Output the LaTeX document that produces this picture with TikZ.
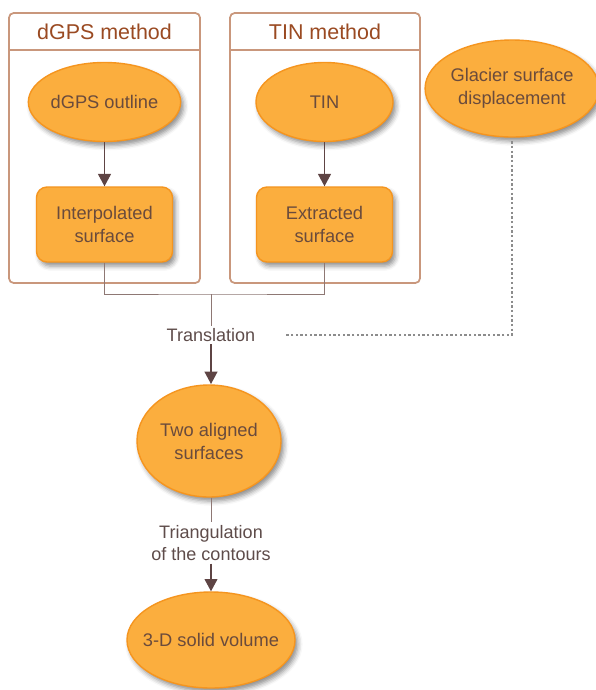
\documentclass[tikz,border=0pt]{standalone}
\usepackage{fontspec}
\setmainfont{Liberation Sans}
\usepackage{tikz}
\usetikzlibrary{arrows.meta,shapes.geometric,shadows.blur}

\definecolor{frameline}{HTML}{C9977C}
\definecolor{titletext}{HTML}{9A4A22}
\definecolor{nodefill}{HTML}{FBAE3E}
\definecolor{nodeline}{HTML}{F5951F}
\definecolor{nodetext}{HTML}{6A4B3C}
\definecolor{labeltext}{HTML}{5E4C4A}
\definecolor{arrowline}{HTML}{5E4444}
\definecolor{joinline}{HTML}{8E7874}
\definecolor{dotline}{HTML}{8C8C8C}

\begin{document}
\begin{tikzpicture}[x=0.03cm,y=-0.03cm,
    frame/.style={draw=frameline,line width=1.5pt,rounded corners=4pt},
    title/.style={text=titletext,font=\fontsize{18.3}{22}\selectfont},
    shade/.style={blur shadow={shadow xshift=2.5pt,shadow yshift=-3.5pt,shadow blur radius=4pt,shadow opacity=45}},
    blob/.style={ellipse,draw=nodeline,line width=1.2pt,fill=nodefill,text=nodetext,align=center,
        inner sep=0pt,font=\fontsize{15.6}{19.6}\selectfont,shade},
    tile/.style={rectangle,rounded corners=9pt,draw=nodeline,line width=1.2pt,fill=nodefill,text=nodetext,
        align=center,inner sep=0pt,minimum width=4.08cm,minimum height=2.25cm,
        font=\fontsize{15.6}{19.6}\selectfont,shade},
    steplabel/.style={text=labeltext,align=center,font=\fontsize{15.4}{19.4}\selectfont,inner sep=2pt},
    arr/.style={draw=arrowline,line width=1pt,-{Triangle[width=11pt,length=10.5pt]}},
    joinl/.style={draw=joinline,line width=0.8pt},
    dots/.style={draw=dotline,line width=1pt,dash pattern=on 2pt off 2pt}]
    \useasboundingbox (0,0) rectangle (596,690);

    % method frames
    \draw[frame] (9,13) rectangle (200,283);
    \draw[frame] (9,50) -- (200,50);
    \node[title] (dgpstitle) at (104.5,32) {dGPS method};
    \draw[frame] (230,13) rectangle (420,283);
    \draw[frame] (230,50) -- (420,50);
    \node[title] (tintitle) at (325,32) {TIN method};

    \node[blob,minimum width=4.11cm,minimum height=2.37cm] (dgps) at (104.5,102) {dGPS outline};
    \node[tile] (interp) at (104.5,224.5) {Interpolated\\surface};
    \node[blob,minimum width=4.11cm,minimum height=2.37cm] (tin) at (324.5,102) {TIN};
    \node[tile] (extr) at (324.5,224.5) {Extracted\\surface};
    \node[blob,minimum width=4.98cm,minimum height=2.91cm] (glacier) at (512,88.5) {Glacier surface\\displacement};

    \node[blob,minimum width=4.32cm,minimum height=3.36cm] (aligned) at (209,441) {Two aligned\\surfaces};
    \node[blob,inner xsep=-9pt,minimum width=5.04cm,minimum height=2.88cm] (volume) at (211,640) {3-D solid volume};

    \draw[arr] (dgps) -- (interp);
    \draw[arr] (tin) -- (extr);

    \coordinate (join) at (211,294);
    \draw[joinl] (interp.south) |- (join) -| (extr.south);
    \node[steplabel] (trans) at (211,335) {Translation};
    \draw[joinl] (join) -- (trans);
    \draw[arr] (trans) -- (211,384);
    \draw[dots] ([yshift=-3pt]glacier.south) |- ([xshift=24pt]trans.east);

    \node[steplabel] (tri) at (211,543) {Triangulation\\of the contours};
    \draw[joinl] (aligned.south-|tri.north) -- (tri);
    \draw[arr] (tri) -- (volume);
\end{tikzpicture}
\end{document}
